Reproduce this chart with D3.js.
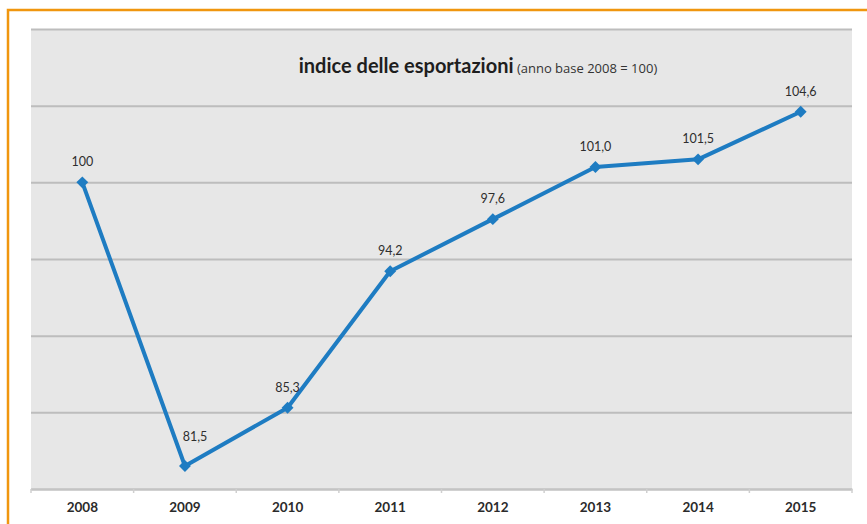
<!DOCTYPE html>
<html>
<head>
<meta charset="utf-8">
<script src="https://cdn.jsdelivr.net/npm/d3@7"></script>
<style>
  html, body { margin: 0; padding: 0; background: #ffffff; }
  svg { display: block; }
</style>
</head>
<body>
<svg id="chart" width="867" height="524"></svg>
<script>
// Export index, base year 2008 = 100
const years = ["2008", "2009", "2010", "2011", "2012", "2013", "2014", "2015"];
const values = [100, 81.5, 85.3, 94.2, 97.6, 101.0, 101.5, 104.6];
const valueLabels = ["100", "81,5", "85,3", "94,2", "97,6", "101,0", "101,5", "104,6"];
const gridValues = [80, 85, 90, 95, 100, 105, 110];

const svg = d3.select("#chart");
const W = 867, H = 524;
const plot = { left: 31, right: 852, top: 29, bottom: 489 };

// Orange frame (top and left edges only visible)
svg.append("path")
  .attr("d", `M8,${H} L8,10 L${W},10`)
  .attr("fill", "none")
  .attr("stroke", "#f0960f")
  .attr("stroke-width", 2.5);

// Plot area background
svg.append("rect")
  .attr("x", plot.left).attr("y", plot.top)
  .attr("width", plot.right - plot.left).attr("height", plot.bottom - plot.top)
  .attr("fill", "#e7e7e7");

const x = d3.scaleBand().domain(years).range([plot.left, plot.right]).padding(0);
const y = d3.scaleLinear().domain([80, 110]).range([plot.bottom, plot.top]);

// Horizontal gridlines
const yAxis = d3.axisLeft(y).tickValues(gridValues).tickSize(-(plot.right - plot.left)).tickFormat("");
const gy = svg.append("g").attr("transform", `translate(${plot.left},0)`).call(yAxis);
gy.select(".domain").remove();
gy.selectAll(".tick line").attr("stroke", "#bdbdbd").attr("stroke-width", 2);

// Category axis
const xAxis = d3.axisBottom(x).tickSize(0).tickPadding(13);
const gx = svg.append("g").attr("transform", `translate(0,${plot.bottom})`).call(xAxis);
gx.select(".domain").attr("stroke", "#c4c4c4").attr("stroke-width", 2);
gx.selectAll(".tick text")
  .attr("font-family", "Lato, 'Open Sans', sans-serif")
  .attr("font-weight", "bold")
  .attr("font-size", 13.5)
  .attr("fill", "#2b2b2b");

// Small tick marks on the category boundaries
const boundaries = years.map(d => x(d)).concat([x(years[years.length - 1]) + x.bandwidth()]);
svg.append("g").selectAll("line").data(boundaries).join("line")
  .attr("x1", d => d).attr("x2", d => d)
  .attr("y1", plot.bottom).attr("y2", plot.bottom + 4)
  .attr("stroke", "#cfcfcf").attr("stroke-width", 1.5);

// Title
const title = svg.append("text")
  .attr("x", 478).attr("y", 73)
  .attr("text-anchor", "middle")
  .attr("font-family", "Lato, 'Open Sans', sans-serif")
  .attr("fill", "#1e1e1e");
title.append("tspan").attr("font-weight", "bold").attr("font-size", 20).text("indice delle esportazioni");
title.append("tspan").attr("font-family", "'Open Sans', sans-serif").attr("font-size", 13).attr("fill", "#333").text(" (anno base 2008 = 100)");

const cx = (d, i) => x(years[i]) + x.bandwidth() / 2;

// Line
const line = d3.line().x((d, i) => cx(d, i)).y(d => y(d));
svg.append("path")
  .datum(values)
  .attr("d", line)
  .attr("fill", "none")
  .attr("stroke", "#1e7cc2")
  .attr("stroke-width", 4)
  .attr("stroke-linejoin", "round");

// Diamond markers
svg.append("g").selectAll("path").data(values).join("path")
  .attr("d", d3.symbol().type(d3.symbolDiamond2).size(90))
  .attr("transform", (d, i) => `translate(${cx(d, i)},${y(d)})`)
  .attr("fill", "#1e7cc2");

// Value labels
svg.append("g").selectAll("text").data(values).join("text")
  .attr("x", (d, i) => cx(d, i) + (i === 1 ? 10 : 0))
  .attr("y", (d, i) => y(d) - (i === 1 ? 25 : 16))
  .attr("text-anchor", "middle")
  .attr("font-family", "Lato, 'Open Sans', sans-serif")
  .attr("font-size", 12.5)
  .attr("fill", "#2e2e2e")
  .text((d, i) => valueLabels[i]);
</script>
</body>
</html>
